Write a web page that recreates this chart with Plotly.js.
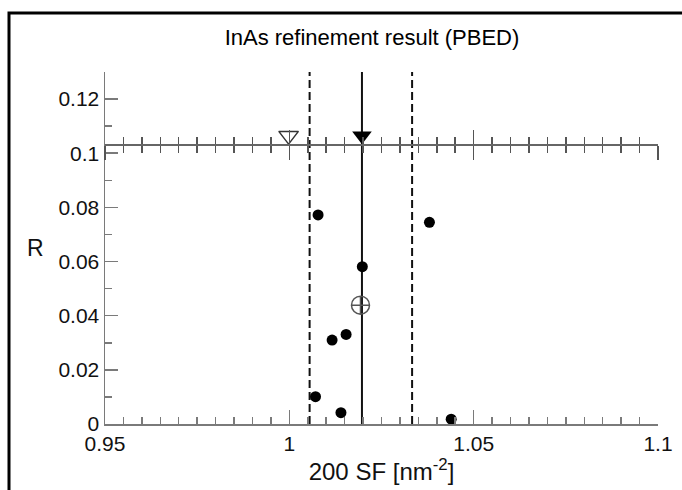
<!DOCTYPE html>
<html>
<head>
<meta charset="utf-8">
<script src="https://cdn.plot.ly/plotly-3.0.1.min.js"></script>
<style>html,body{margin:0;padding:0;background:#fff;overflow:hidden;}#chart{width:682px;height:490px;overflow:hidden;}</style>
</head>
<body>
<div id="chart"></div>
<script>
// Data
var sfValues = [1.0078, 1.0380, 1.0198, 1.0116, 1.0154, 1.0071, 1.0140, 1.0439];
var rValues  = [0.0772, 0.0745, 0.0581, 0.0310, 0.0331, 0.0101, 0.0042, 0.0018];
var meanSF = [1.0193];
var meanR  = [0.0439];
var bestSF = 1.0197;          // solid vertical line, filled triangle
var lowerSF = 1.0055;         // dashed bounds
var upperSF = 1.0333;
var startSF = [0.9998];       // open triangle
var markerR = [0.1065];       // triangle markers level
var refR = 0.1034;            // horizontal reference axis level
var xRange = [0.95, 1.1];
var yRange = [0, 0.13];
var xTickVals = [0.95, 1, 1.05, 1.1];
var xTickText = ['0.95', '1', '1.05', '1.1'];
var yTickVals = [0, 0.02, 0.04, 0.06, 0.08, 0.1, 0.12];
var yTickText = ['0', '0.02', '0.04', '0.06', '0.08', '0.1', '0.12'];

var FONT = 'Liberation Sans, Arial, sans-serif';
var axisGray = '#7a7a7a';

var traces = [
  {x: [lowerSF, lowerSF], y: yRange, mode: 'lines', line: {color: '#111', width: 2, dash: '8px,4px'}, hoverinfo: 'skip', showlegend: false},
  {x: [upperSF, upperSF], y: yRange, mode: 'lines', line: {color: '#111', width: 2, dash: '8px,4px'}, hoverinfo: 'skip', showlegend: false},
  {x: [bestSF, bestSF], y: yRange, mode: 'lines', line: {color: '#111', width: 2}, hoverinfo: 'skip', showlegend: false},
  {x: sfValues, y: rValues, mode: 'markers', marker: {symbol: 'circle', size: 11, color: '#000'}, showlegend: false},
  {x: meanSF, y: meanR, mode: 'markers', marker: {symbol: 'circle-cross-open', size: 18, color: '#555', line: {width: 1.5, color: '#555'}}, showlegend: false},
  {x: [bestSF], y: markerR, mode: 'markers', marker: {symbol: 'triangle-down', size: 17, color: '#000'}, showlegend: false},
  {x: startSF, y: markerR, mode: 'markers', marker: {symbol: 'triangle-down-open', size: 17, color: '#333', line: {width: 1.5, color: '#333'}}, showlegend: false},
  // carriers for the horizontal reference axes
  {x: xRange, y: [refR, refR], xaxis: 'x2', mode: 'lines', line: {width: 0}, hoverinfo: 'skip', showlegend: false},
  {x: xRange, y: [refR, refR], xaxis: 'x3', mode: 'lines', line: {width: 0}, hoverinfo: 'skip', showlegend: false}
];

var refPos = refR / (yRange[1] - yRange[0]);

var px = function (p) { return (p - 105) / 553; };
var py = function (p) { return (424 - p) / 352; };
var framePath = 'M' + px(9) + ',' + py(495) + ' L' + px(9) + ',' + py(13) + ' L' + px(690) + ',' + py(13);

var layout = {
  width: 682, height: 490,
  margin: {l: 105, r: 24, t: 72, b: 66, pad: 0},
  paper_bgcolor: '#fff', plot_bgcolor: '#fff',
  font: {family: FONT, color: '#000', size: 21},
  title: {text: 'InAs refinement result (PBED)', font: {family: FONT, size: 22, color: '#000'},
          x: 372 / 682, xref: 'container', xanchor: 'center', y: 1 - 37 / 490, yref: 'container', yanchor: 'middle'},
  xaxis: {
    range: xRange, showgrid: false, zeroline: false, showline: true, linecolor: axisGray, linewidth: 1.5,
    tickvals: xTickVals, ticktext: xTickText, ticks: 'inside', ticklen: 14, tickcolor: axisGray, tickwidth: 1.5,
    minor: {dtick: 0.005, tick0: 0.95, ticks: 'inside', ticklen: 7, tickcolor: axisGray, tickwidth: 1.5, showgrid: false},
    tickfont: {family: FONT, size: 21, color: '#111'}, ticklabelstandoff: 0,
    title: {text: '200 SF [nm<sup>-2</sup>]', font: {family: FONT, size: 24, color: '#111'}, standoff: 1},
    automargin: false, fixedrange: true
  },
  xaxis2: {
    overlaying: 'x', matches: 'x', anchor: 'free', position: refPos, side: 'bottom',
    showgrid: false, zeroline: false, showline: true, linecolor: '#666', linewidth: 1.5,
    tickvals: xTickVals, ticks: 'outside', ticklen: 14, tickcolor: '#555', tickwidth: 1.5, showticklabels: false,
    minor: {dtick: 0.005, tick0: 0.95, ticks: 'outside', ticklen: 7, tickcolor: '#555', tickwidth: 1.5, showgrid: false},
    automargin: false, fixedrange: true
  },
  xaxis3: {
    overlaying: 'x', matches: 'x', anchor: 'free', position: refPos, side: 'bottom',
    showgrid: false, zeroline: false, showline: false,
    tickvals: xTickVals, ticks: 'inside', ticklen: 14, tickcolor: '#555', tickwidth: 1.5, showticklabels: false,
    minor: {dtick: 0.005, tick0: 0.95, ticks: 'inside', ticklen: 7, tickcolor: '#555', tickwidth: 1.5, showgrid: false},
    automargin: false, fixedrange: true
  },
  yaxis: {
    range: yRange, showgrid: false, zeroline: false, showline: true, linecolor: axisGray, linewidth: 1.5,
    tickvals: yTickVals, ticktext: yTickText, ticks: 'inside', ticklen: 13, tickcolor: axisGray, tickwidth: 1.5,
    minor: {dtick: 0.01, tick0: 0, ticks: 'inside', ticklen: 7, tickcolor: axisGray, tickwidth: 1.5, showgrid: false},
    tickfont: {family: FONT, size: 21, color: '#111'},
    automargin: false, fixedrange: true
  },
  annotations: [
    {text: 'R', xref: 'paper', yref: 'paper', x: px(35), y: py(248), xanchor: 'center', yanchor: 'middle',
     showarrow: false, font: {family: FONT, size: 23, color: '#111'}}
  ],
  shapes: [
    {type: 'path', xref: 'paper', yref: 'paper', path: framePath, fillcolor: 'rgba(0,0,0,0)', line: {color: '#000', width: 3}}
  ],
  showlegend: false
};

Plotly.newPlot('chart', traces, layout, {displayModeBar: false, staticPlot: true});
</script>
</body>
</html>
